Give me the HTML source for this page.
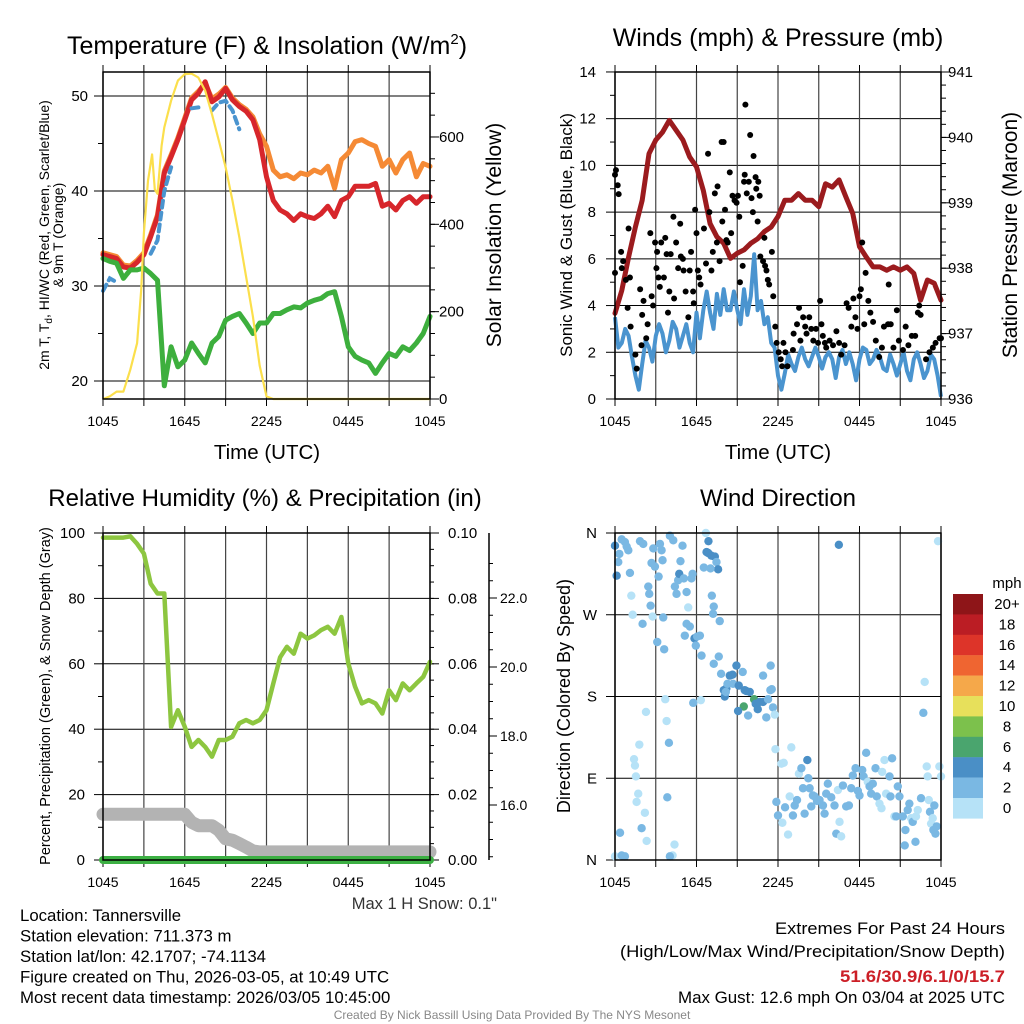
<!DOCTYPE html>
<html><head><meta charset="utf-8"><title>Tannersville Meteogram</title>
<style>
html,body{margin:0;padding:0;background:#fff;}
svg{display:block;font-family:"Liberation Sans",Arial,sans-serif;}
</style></head>
<body>
<svg id="chart" width="1024" height="1024" viewBox="0 0 1024 1024" xmlns="http://www.w3.org/2000/svg">
<rect x="0" y="0" width="1024" height="1024" fill="#fff"/>
</svg>
<script>
// ---------- DATA (half-hourly from 1045 UTC, 0..24 h) ----------
const xTickLabels = ['1045','1645','2245','0445','1045'];
const temp2m = [33.3,33.1,32.9,32.0,31.9,32.5,33.3,35.2,37.3,41.9,43.6,45.4,47.5,49.6,50.3,51.5,49.4,49.9,50.8,49.6,48.9,48.4,47.5,45.4,41.5,39.0,38.0,37.6,36.9,37.6,37.3,37.1,37.6,38.4,37.3,39.0,39.4,40.5,40.5,40.5,40.8,38.4,38.7,38.0,39.0,39.4,38.7,39.4,39.4];
const temp9m = [33.5,33.3,33.1,32.2,32.1,32.7,33.5,35.4,37.5,42.1,43.8,45.6,47.7,49.8,50.5,51.3,49.7,50.2,50.9,49.8,49.1,48.6,47.8,46.0,44.7,42.2,41.5,41.7,41.3,41.9,41.7,42.2,41.9,42.6,40.3,43.3,44.0,45.2,45.4,45.0,44.7,42.6,43.3,41.9,43.3,44.0,41.5,42.9,42.6];
const dewpoint = [32.9,32.6,32.4,30.8,31.7,31.7,31.9,31.3,30.6,19.5,23.6,21.5,22.2,24.0,22.9,21.9,24.0,24.7,26.4,26.8,27.1,26.1,25.0,26.1,26.1,27.1,27.1,27.5,27.8,27.7,28.2,28.5,28.7,29.2,29.4,26.8,23.6,22.6,22.2,21.9,20.8,21.9,22.9,22.6,23.6,23.2,24.0,25.0,26.8];
const heatWind = [29.5,30.8,30.4,null,null,null,null,33.4,34.8,40.0,42.5,null,null,48.7,48.8,null,48.5,49.3,49.5,48.5,46.5,null,null,null,null,null,null,null,null,null,null,null,null,null,null,null,null,null,null,null,null,null,null,null,null,null,null,null,null];
const solarHours = [0,0.5,1,1.5,2,2.5,2.8,3.0,3.3,3.6,3.8,4.0,4.3,4.5,5,5.5,6,6.5,7,7.5,8,8.5,9,9.5,10,10.5,11,11.5,12,12.5,24];
const solar = [0,6,17,17,67,128,250,380,500,560,480,470,580,622,683,729,744,745,736,706,652,592,531,455,371,280,189,76,6,0,0];
const sonicWind = [3.5,2.2,2.4,3.0,2.7,1.8,1.0,0.4,1.5,2.5,2.2,1.6,2.7,3.2,2.8,2.0,2.5,3.3,3.0,2.2,2.7,3.2,2.4,2.0,3.7,2.6,3.8,4.6,3.7,3.0,4.5,3.6,4.7,3.8,3.8,4.6,3.8,3.2,4.7,3.6,4.4,6.2,3.8,4.2,3.2,3.5,2.4,2.2,1.0,0.4,1.1,1.9,1.5,1.2,1.8,2.2,1.7,1.4,1.8,2.2,1.8,1.3,1.8,2.0,1.7,0.9,1.8,2.1,1.5,2.0,1.5,0.8,1.7,2.2,2.1,1.5,1.7,2.1,1.8,1.3,1.2,1.9,1.5,1.0,1.5,2.0,1.2,0.8,1.7,2.0,1.5,0.9,1.2,1.9,1.7,1.0,0.1];
const pressure = [937.31,937.66,938.17,938.63,939.04,939.75,939.96,940.08,940.26,940.11,939.96,939.70,939.55,939.19,938.68,938.48,938.38,938.15,938.23,938.28,938.38,938.45,938.56,938.63,938.79,939.04,939.04,939.14,939.04,939.04,938.94,939.29,939.24,939.35,939.09,938.84,938.33,938.17,938.02,938.02,937.97,938.02,937.97,938.02,937.92,937.51,937.82,937.77,937.51];
const gustHours = [0,0.07,0.2,0.27,0,0.45,0.5,0.6,0.8,1,1.1,0.93,1.15,1.5,1.6,1.85,2,2.1,2.4,2.3,1.95,2.6,2.7,2.8,2.95,3.05,3.1,3.2,3.3,3.4,3.6,3.7,3.8,3.9,4,4.1,4.3,4.35,4.5,4.65,4.8,4.85,5.0,5.05,5.2,5.4,5.5,5.6,5.75,5.8,5.9,6.0,6.1,6.2,6.3,6.55,6.7,6.85,6.95,7.1,7.2,7.35,7.5,7.55,7.7,7.85,8.0,7.9,8.1,8.2,8.3,8.45,8.55,8.65,8.8,8.95,9.05,9.15,9.2,9.4,9.5,9.55,9.6,9.7,9.85,9.95,10.05,10.15,10.2,10.35,10.4,10.5,10.55,10.65,10.7,10.9,11.0,11.05,11.15,11.25,11.35,11.55,11.65,11.8,11.9,12.05,12.2,12.3,12.4,12.55,12.7,13.1,13.15,13.4,13.55,13.65,13.85,14.0,14.1,14.3,14.45,14.6,14.8,14.95,15.1,15.2,15.3,15.45,15.55,15.8,16.05,16.3,16.5,16.65,16.9,17.05,17.2,17.4,17.55,17.7,17.85,18.0,18.1,18.2,18.35,18.45,18.65,18.8,19.0,19.2,19.45,19.65,19.8,20.1,20.15,20.3,20.5,20.75,20.9,21.2,21.4,21.6,21.85,22.1,22.3,22.5,22.4,22.9,23.15,23.4,23.6,23.9,24];
const gustSpeed = [9.6,9.8,9.15,8.77,5.4,6.3,5.6,5.9,5.1,7.3,5.2,3.9,3.1,1.9,1.3,4.7,3.6,4.2,3.2,2.6,2.3,7.1,4.4,4.0,6.7,5.6,6.3,5.2,4.8,6.7,5.2,6.9,6.2,3.7,4.6,6.2,7.8,4.3,6.7,5.6,7.5,6.1,6.0,5.5,4.6,3.5,5.5,6.3,4.6,4.1,8.1,7.1,5.5,5.2,4.9,7.3,5.8,10.5,8.0,5.5,6.3,8.8,6.7,9.1,5.9,11.0,11.0,7.6,8.1,6.8,6.7,9.7,7.1,8.7,8.5,8.4,8.7,7.8,5.0,5.7,9.3,9.6,12.6,8.8,9.3,11.3,8.6,8.0,10.4,9.5,9.0,7.6,9.3,8.7,6.1,5.9,6.9,5.7,5.5,5.1,4.9,6.3,4.4,3.1,2.4,2.0,1.7,1.4,2.4,2.0,1.4,2.1,2.8,3.2,3.9,2.5,3.5,3.1,2.8,3.5,3.0,2.5,3.0,2.4,4.2,3.2,2.7,2.4,2.2,2.5,2.3,2.9,2.4,1.9,2.3,4.1,3.9,3.1,4.3,3.5,3.0,4.4,4.7,6.7,3.2,5.4,4.2,3.7,3.3,2.5,1.8,2.2,3.1,3.2,4.9,3.2,2.2,3.8,2.5,2.1,3.1,2.3,2.7,2.7,3.7,3.6,4.0,1.7,2.0,2.2,2.4,2.6,2.6];
const relHumidity = [98.6,98.6,98.6,98.6,99.0,96.7,93.7,84.5,81.5,81.5,40.7,45.8,40.7,34.6,36.7,34.6,31.6,36.7,36.7,37.7,41.8,42.8,41.8,42.8,45.8,54.0,62.0,65.2,63.1,69.2,67.7,68.7,70.3,71.3,69.2,74.3,60.1,53.0,47.9,48.9,47.9,44.8,51.9,48.9,54.0,51.9,54.0,56.0,60.6];
const snowHours = [0,6,6.5,7,8,8.5,9,9.5,10,10.5,11,11.5,24];
const snowDepth = [15.73,15.73,15.5,15.4,15.4,15.27,15.02,14.98,14.88,14.78,14.67,14.64,14.64];
const precipHours = [0,24];
const precip = [0,0];
const dirHours = [0,0.24,0.12,0.32,0.49,0.73,0.86,0.98,1.10,1.20,1.30,1.84,2.08,2.03,2.45,2.52,2.62,2.69,2.82,2.77,2.94,3.11,3.21,3.31,3.43,3.50,3.55,3.62,4.04,4.29,4.41,4.53,4.65,4.73,4.82,4.97,5.07,5.14,5.27,5.39,5.27,5.51,5.63,5.71,5.85,5.95,6.05,6.25,6.37,6.54,6.69,6.88,6.74,6.86,7.10,7.35,7.47,7.59,7.03,7.13,7.27,7.22,7.71,7.64,7.81,8.01,8.08,8.20,8.45,8.65,8.69,8.94,9.11,9.40,9.55,9.67,9.92,9.48,10.24,9.06,9.80,10.36,10.51,10.65,10.90,11.14,11.27,11.44,11.54,11.63,11.76,11.46,10.90,11.81,12.25,12.42,12.98,11.88,12.00,12.32,12.52,12.74,12.86,13.10,13.23,13.40,13.54,13.72,13.84,13.96,14.16,14.23,14.33,14.45,14.57,14.70,14.87,15.06,15.31,15.43,15.55,15.67,15.92,16.16,16.29,16.41,16.53,16.65,16.78,17.02,17.22,17.39,17.51,17.71,17.88,18.00,18.20,18.30,18.49,18.61,18.74,18.86,18.98,19.18,19.27,19.47,19.62,19.67,19.84,19.96,20.21,20.28,20.40,20.57,20.70,20.82,20.94,21.19,21.38,21.33,21.55,21.67,21.80,21.92,22.16,22.12,22.29,22.53,22.70,22.80,22.95,23.02,23.10,23.19,23.27,23.39,23.44,23.51,23.59,23.68,23.78,23.88,24.00,16.48,0.00,0.49,0.73,0.37,1.96,2.33,2.20,1.59,1.71,1.47,1.40,1.54,1.79,2.28,3.70,3.80,3.97,3.85,4.24,4.38,4.04,5.76,6.32,7.27,8.28,8.16];
const dirDegrees = [346,328,313,337,353,350,345,341,316,291,270,351,348,260,301,293,280,327,343,268,323,240,312,348,341,330,267,232,357,352,301,293,308,315,329,346,310,247,295,278,260,257,310,315,244,236,246,247,225,322,360,351,339,338,335,334,328,320,321,291,279,271,263,224,205,187,180,189,203,204,194,214,192,207,187,186,185,169,177,164,159,172,166,174,174,157,177,187,188,168,160,214,203,122,106,107,124,64,49,41,58,28,70,49,60,66,95,101,79,51,110,90,79,59,71,70,65,66,60,51,73,84,69,60,29,77,42,26,82,59,60,79,93,101,76,71,99,92,118,86,81,73,84,101,70,62,57,97,110,73,92,70,112,48,48,81,70,48,33,16,55,62,46,42,48,20,55,68,162,196,103,92,66,53,40,46,33,60,29,37,351,103,92,347,4,5,4,30,35,21,52,64,73,104,111,92,127,163,177,153,129,69,5,17,4,173,176,216,194,185];
const dirSpeed = [5,3,5,3,3,3,3,3,3,1,1,3,3,3,3,3,3,3,3,1,3,3,3,3,3,3,3,3,3,3,3,3,3,5,3,3,3,3,3,1,3,3,3,3,5,3,3,3,3,3,1,5,5,5,5,5,3,5,3,3,3,3,3,3,3,5,5,5,5,5,3,5,5,3,5,5,5,7,7,5,3,5,5,5,5,3,3,3,3,3,1,3,3,1,1,1,1,3,3,1,3,1,1,3,3,3,1,3,3,3,5,3,3,3,3,3,3,3,3,3,3,3,3,3,3,1,1,1,3,3,3,3,3,3,3,3,3,3,3,1,3,3,3,3,3,1,1,1,1,1,3,3,3,1,3,3,3,3,3,3,3,3,1,3,1,3,1,3,3,1,1,1,1,3,1,1,3,3,3,3,1,1,1,5,1,3,3,3,3,1,1,1,1,1,1,1,1,1,1,1,3,3,1,1,3,3,1,3,3,3,5,5];
const speedBins = ['20+','18','16','14','12','10','8','6','4','2','0'];
const speedColors = ['#8e1518','#bb1d24','#dd3429','#ef6531','#f5a84a','#e7e05b','#7cc14c','#4aa56e','#4a8fc6','#7ab8e3','#b6e2f7'];

// ---------- HELPERS ----------
const svg = document.getElementById('chart');
const NS = 'http://www.w3.org/2000/svg';
function mk(tag, attrs, parent){ const e=document.createElementNS(NS,tag); for(const k in attrs) e.setAttribute(k,attrs[k]); (parent||svg).appendChild(e); return e; }
function txt(s,x,y,size,anchor,parent,extra){ const t=mk('text',Object.assign({x:x,y:y,'font-size':size,'text-anchor':anchor||'middle',fill:'#000'},extra||{}),parent); t.textContent=s; return t; }
function grp(name){ const g=mk('g',{});   return g; }
function halfHours(arr){ return arr.map((v,i)=>[i*0.5,v]); }
function quarterHours(arr){ return arr.map((v,i)=>[i*0.25,v]); }
function pathD(pts,fx,fy){ let d='',pen=false; pts.forEach(p=>{ if(p[1]===null||p[1]===undefined){pen=false;return;} d+=(pen?'L':'M')+fx(p[0]).toFixed(1)+' '+fy(p[1]).toFixed(1); pen=true; }); return d; }
function rotText(s,x,y,size,parent){ const t=mk('text',{x:x,y:y,'font-size':size,'text-anchor':'middle',transform:'rotate(-90 '+x+' '+y+')'},parent); t.textContent=s; return t; }

function panelFrame(g,P){
  const fx=h=>P.x0+h*(P.x1-P.x0)/24;
  for(let h=0;h<=24;h+=3){
    const x=fx(h);
    mk('line',{x1:x,y1:P.y0,x2:x,y2:P.y1,stroke:'#444','stroke-width':1.2},g);
    mk('line',{x1:x,y1:P.y1,x2:x,y2:P.y1+7,stroke:'#000','stroke-width':1},g);
    mk('line',{x1:x,y1:P.y0-7,x2:x,y2:P.y0,stroke:'#000','stroke-width':1},g);
  }
  xTickLabels.forEach((s,i)=>{ const t=txt(s,fx(i*6),P.y1+27,14,'middle',g);  });
  return fx;
}
function hGrid(g,P,ys){ ys.forEach(y=>mk('line',{x1:P.x0,y1:y,x2:P.x1,y2:y,stroke:'#000','stroke-width':1},g)); }
function box(g,P){ mk('rect',{x:P.x0,y:P.y0,width:P.x1-P.x0,height:P.y1-P.y0,fill:'none',stroke:'#000','stroke-width':1.5},g); }
function yTicks(g,x,side,from,to,step,fy,len){ for(let v=from;v<=to+1e-9;v+=step){ const y=fy(v); mk('line',{x1:x,y1:y,x2:x+side*len,y2:y,stroke:'#000','stroke-width':1},g);} }

// ================= PANEL 1 : TEMPERATURE =================
(function(){
  const P={x0:103,x1:430,y0:72,y1:399};
  const g=grp('temperature-panel');
  const fy=t=>381-(t-20)*9.5;
  const fs=w=>399-w*0.4367;
  const ttl=mk('text',{x:267,y:54,'font-size':25,'text-anchor':'middle'},g);
  
  ttl.appendChild(document.createTextNode('Temperature (F) & Insolation (W/m'));
  const sp=mk('tspan',{dy:-10,'font-size':15},ttl); sp.textContent='2';
  const sp2=mk('tspan',{dy:10},ttl); sp2.textContent=')';
  hGrid(g,P,[20,30,40,50].map(fy));
  const fx=panelFrame(g,P);
  yTicks(g,P.x0,-1,20,50,10,fy,9); yTicks(g,P.x0,-1,25,45,10,fy,5);
  [20,30,40,50].forEach(v=>{const t=txt(String(v),88,fy(v)+5,15,'end',g); });
  yTicks(g,P.x1,1,0,600,200,fs,9); yTicks(g,P.x1,1,50,700,50,fs,5);
  [0,200,400,600].forEach(v=>{const t=txt(String(v),439,fs(v)+5,15,'start',g); });
  const orange=mk('path',{d:pathD(halfHours(temp9m),fx,fy),fill:'none',stroke:'#f58a35','stroke-width':5,'stroke-linejoin':'round','stroke-linecap':'round'},g);
  
  const red=mk('path',{d:pathD(halfHours(temp2m),fx,fy),fill:'none',stroke:'#d7262b','stroke-width':5,'stroke-linejoin':'round','stroke-linecap':'round'},g);
  
  const blue=mk('path',{d:pathD(halfHours(heatWind),fx,fy),fill:'none',stroke:'#4a94cf','stroke-width':4,'stroke-linecap':'round','stroke-dasharray':'7 5'},g);
  
  const green=mk('path',{d:pathD(halfHours(dewpoint),fx,fy),fill:'none',stroke:'#3daf3d','stroke-width':5,'stroke-linejoin':'round','stroke-linecap':'round'},g);
  
  const yel=mk('path',{d:pathD(solarHours.map((h,i)=>[h,solar[i]]),fx,fs),fill:'none',stroke:'#fbdf4c','stroke-width':2.2,'stroke-linejoin':'round'},g);
  
  box(g,P);
  const xt=txt('Time (UTC)',267,459,20.5,'middle',g); 
  const l1=mk('text',{x:49,y:235,'font-size':14,'text-anchor':'middle',transform:'rotate(-90 49 235)'},g);
  
  l1.appendChild(document.createTextNode('2m T, T'));
  const sb=mk('tspan',{dy:3,'font-size':10},l1); sb.textContent='d';
  const sb2=mk('tspan',{dy:-3},l1); sb2.textContent=', HI/WC (Red, Green, Scarlet/Blue)';
  const l2=rotText('& 9m T (Orange)',63,235,14,g); 
  const r=rotText('Solar Insolation (Yellow)',501,235,21,g); 
})();

// ================= PANEL 2 : WINDS =================
(function(){
  const P={x0:615,x1:941,y0:72,y1:399};
  const g=grp('winds-panel');
  const fy=v=>399-v*23.36;
  const fp=p=>399-(p-936)*65.4;
  const t=txt('Winds (mph) & Pressure (mb)',778,46,25,'middle',g); 
  hGrid(g,P,[2,4,6,8,10,12].map(fy));
  const fx=panelFrame(g,P);
  yTicks(g,P.x0,-1,0,14,2,fy,9); yTicks(g,P.x0,-1,1,13,2,fy,5);
  [0,2,4,6,8,10,12,14].forEach(v=>{const l=txt(String(v),596,fy(v)+5,15,'end',g); });
  yTicks(g,P.x1,1,936,941,1,fp,9); yTicks(g,P.x1,1,936.2,940.9,0.2,fp,5);
  [936,937,938,939,940,941].forEach(v=>{const l=txt(String(v),948,fp(v)+5,15,'start',g); });
  const sw=mk('path',{d:pathD(quarterHours(sonicWind),fx,fy),fill:'none',stroke:'#4a94cf','stroke-width':4,'stroke-linejoin':'round'},g);
  
  const pr=mk('path',{d:pathD(halfHours(pressure),fx,fp),fill:'none',stroke:'#9b1b1e','stroke-width':5,'stroke-linejoin':'round','stroke-linecap':'round'},g);
  
  gustHours.forEach((h,i)=>{
    const c=mk('circle',{cx:fx(h),cy:fy(gustSpeed[i]),r:3,fill:'#000'},g);
    
    
  });
  box(g,P);
  const xt=txt('Time (UTC)',778,459,20.5,'middle',g); 
  const l=rotText('Sonic Wind & Gust (Blue, Black)',572,235,17,g); 
  const r=rotText('Station Pressure (Maroon)',1017,235,21,g); 
})();

// ================= PANEL 3 : HUMIDITY =================
(function(){
  const P={x0:103,x1:430,y0:533,y1:860};
  const g=grp('humidity-panel');
  const fy=v=>860-v*3.27;
  const fpc=v=>860-v*3270;
  const fsn=s=>805-(s-16)*34.5;
  const t=txt('Relative Humidity (%) & Precipitation (in)',265,506,24,'middle',g); 
  hGrid(g,P,[20,40,60,80].map(fy));
  const fx=panelFrame(g,P);
  yTicks(g,P.x0,-1,0,100,20,fy,9); yTicks(g,P.x0,-1,10,90,20,fy,5);
  [0,20,40,60,80,100].forEach(v=>{const l=txt(String(v),85,fy(v)+5,15,'end',g); });
  yTicks(g,P.x1,1,0,0.1,0.02,fpc,9); yTicks(g,P.x1,1,0.005,0.1,0.005,fpc,4);
  ['0.00','0.02','0.04','0.06','0.08','0.10'].forEach((s,i)=>{const l=txt(s,448,fpc(i*0.02)+5,15,'start',g); });
  mk('line',{x1:489,y1:533,x2:489,y2:860,stroke:'#000','stroke-width':1.5},g);
  yTicks(g,489,1,16,22,2,fsn,8); yTicks(g,489,1,14.5,23,0.5,fsn,4);
  [16,18,20,22].forEach(v=>{const l=txt(v.toFixed(1),500,fsn(v)+5,14,'start',g); });
  const sn=mk('path',{d:pathD(snowHours.map((h,i)=>[h,snowDepth[i]]),fx,fsn),fill:'none',stroke:'#b3b3b3','stroke-width':13,'stroke-linejoin':'round','stroke-linecap':'round'},g);
  
  const pc=mk('path',{d:pathD(precipHours.map((h,i)=>[h,precip[i]]),fx,fpc),fill:'none',stroke:'#3cb043','stroke-width':8,'stroke-linecap':'round'},g);
  
  const rh=mk('path',{d:pathD(halfHours(relHumidity),fx,fy),fill:'none',stroke:'#8dc640','stroke-width':4.5,'stroke-linejoin':'round','stroke-linecap':'round'},g);
  
  box(g,P);
  const l=rotText('Percent, Precipitation (Green), & Snow Depth (Gray)',50,696,14.5,g); 
  const m=txt('Max 1 H Snow: 0.1"',497,909,16.5,'end',g,{fill:'#333'}); 
})();

// ================= PANEL 4 : WIND DIRECTION =================
(function(){
  const P={x0:615,x1:941,y0:533,y1:860};
  const g=grp('wind-direction-panel');
  const fy=d=>860-d*(327/360);
  const t=txt('Wind Direction',778,506,24,'middle',g); 
  hGrid(g,P,[90,180,270].map(fy));
  const fx=panelFrame(g,P);
  const dirLabels=['N','E','S','W','N'];
  dirLabels.forEach((s,i)=>{ const y=fy(i*90); mk('line',{x1:P.x0-9,y1:y,x2:P.x0,y2:y,stroke:'#000'},g); const l=txt(s,597,y+5,15,'end',g);  });
  function colorFor(s){ const idx=Math.min(10,Math.floor(s/2)); return speedColors[10-idx]; }
  dirHours.forEach((h,i)=>{
    const c=mk('circle',{cx:fx(h),cy:fy(dirDegrees[i]),r:4.2,fill:colorFor(dirSpeed[i])},g);
    
    
  });
  box(g,P);
  const l=rotText('Direction (Colored By Speed)',570,696,18,g); 
  const cb=grp('speed-colorbar');
  const u=txt('mph',1007,588,15,'middle',cb); 
  speedBins.forEach((s,i)=>{
    const y=594+i*20.4;
    const r=mk('rect',{x:953,y:y,width:30,height:20.6,fill:speedColors[i]},cb);
    
    const l=txt(s,1007,y+15,15,'middle',cb); 
  });
})();

// ================= FOOTER TEXT =================
(function(){
  const g=grp('footer-info');
  const left=['Location: Tannersville','Station elevation: 711.373 m','Station lat/lon: 42.1707; -74.1134','Figure created on Thu, 2026-03-05, at 10:49 UTC','Most recent data timestamp: 2026/03/05 10:45:00'];
  left.forEach((s,i)=>{const t=txt(s,20,921+i*20.5,16.8,'start',g); });
  const t1=txt('Extremes For Past 24 Hours',1005,934,17,'end',g,{textLength:230,lengthAdjust:'spacingAndGlyphs'}); 
  const t2=txt('(High/Low/Max Wind/Precipitation/Snow Depth)',1005,957,17,'end',g,{textLength:385,lengthAdjust:'spacingAndGlyphs'}); 
  const t3=txt('51.6/30.9/6.1/0/15.7',1005,982,17,'end',g,{fill:'#cc1f27','font-weight':'bold',textLength:165,lengthAdjust:'spacingAndGlyphs'}); 
  const t4=txt('Max Gust: 12.6 mph On 03/04 at 2025 UTC',1005,1003,17,'end',g,{textLength:327,lengthAdjust:'spacingAndGlyphs'}); 
  const c=txt('Created By Nick Bassill Using Data Provided By The NYS Mesonet',512,1019,12,'middle',g,{fill:'#888'}); 
})();
</script>
</body></html>
